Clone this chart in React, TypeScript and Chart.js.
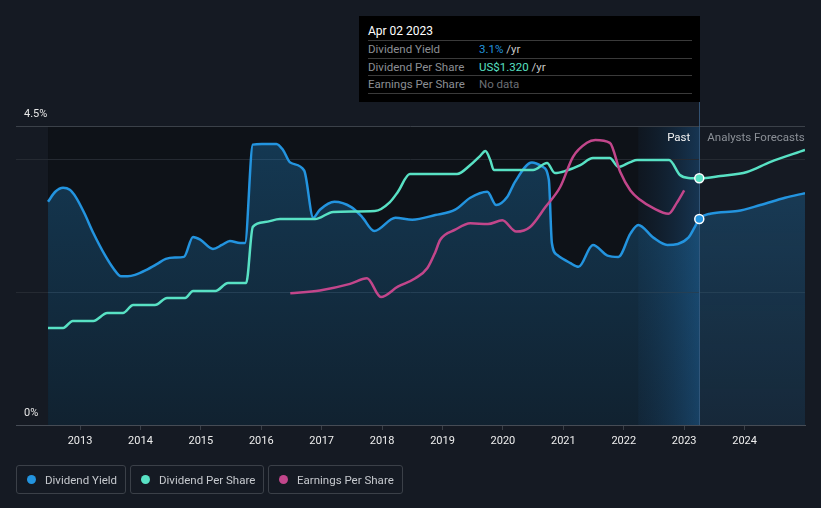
import React, { useEffect, useRef } from "react";
import { Chart, registerables } from "chart.js";

Chart.register(...registerables);

// ---------- data ----------
const TICK_YEARS = [2013, 2014, 2015, 2016, 2017, 2018, 2019, 2020, 2021, 2022, 2023, 2024];
const Y_TICKS = [0, 2, 4, 4.5];

const yieldYears = [2012.47, 2012.59, 2012.72, 2012.83, 2012.93, 2013.07, 2013.22, 2013.41, 2013.55, 2013.68, 2013.79, 2013.91, 2014.09, 2014.27, 2014.42, 2014.57, 2014.72, 2014.87, 2014.99, 2015.2, 2015.35, 2015.48, 2015.65, 2015.73, 2015.86, 2016.01, 2016.25, 2016.36, 2016.48, 2016.71, 2016.86, 2016.97, 2017.21, 2017.49, 2017.67, 2017.87, 2018.22, 2018.5, 2018.88, 2019.21, 2019.46, 2019.74, 2019.89, 2020.07, 2020.2, 2020.48, 2020.65, 2020.76, 2020.81, 2020.9, 2021.11, 2021.25, 2021.49, 2021.73, 2021.91, 2022.11, 2022.24, 2022.49, 2022.72, 2023.07, 2023.17, 2023.25, 2023.43, 2023.88, 2024.26, 2024.67, 2025.0];
const yieldValues = [3.36, 3.51, 3.57, 3.54, 3.43, 3.19, 2.89, 2.56, 2.36, 2.24, 2.24, 2.26, 2.33, 2.42, 2.5, 2.52, 2.53, 2.83, 2.79, 2.65, 2.71, 2.77, 2.74, 2.74, 4.22, 4.23, 4.23, 4.14, 3.95, 3.83, 3.12, 3.24, 3.36, 3.28, 3.13, 2.92, 3.12, 3.09, 3.16, 3.24, 3.42, 3.51, 3.31, 3.43, 3.66, 3.95, 3.89, 3.69, 2.74, 2.56, 2.44, 2.38, 2.71, 2.55, 2.53, 2.88, 3.01, 2.82, 2.71, 2.82, 2.97, 3.1, 3.18, 3.22, 3.31, 3.42, 3.49];

const dpsYears = [2012.47, 2012.72, 2012.88, 2013.22, 2013.45, 2013.71, 2013.88, 2014.24, 2014.44, 2014.74, 2014.87, 2015.24, 2015.45, 2015.75, 2015.86, 2016.06, 2016.31, 2016.89, 2017.19, 2017.88, 2018.13, 2018.26, 2018.46, 2019.24, 2019.46, 2019.62, 2019.71, 2019.79, 2019.85, 2020.5, 2020.73, 2020.86, 2021.03, 2021.28, 2021.49, 2021.77, 2021.91, 2022.11, 2022.22, 2022.75, 2022.93, 2023.07, 2023.25, 2023.6, 2024.04, 2024.42, 2025.0];
const dpsValues = [0.519, 0.519, 0.557, 0.557, 0.599, 0.599, 0.642, 0.642, 0.68, 0.68, 0.717, 0.717, 0.76, 0.76, 1.06, 1.086, 1.102, 1.102, 1.14, 1.145, 1.193, 1.247, 1.343, 1.343, 1.391, 1.439, 1.466, 1.418, 1.364, 1.364, 1.402, 1.348, 1.359, 1.391, 1.429, 1.429, 1.381, 1.407, 1.418, 1.418, 1.338, 1.322, 1.32, 1.332, 1.354, 1.407, 1.472];

const epsYears = [2016.48, 2016.97, 2017.47, 2017.75, 2017.98, 2018.26, 2018.55, 2018.75, 2018.88, 2018.96, 2019.21, 2019.46, 2019.75, 2019.99, 2020.22, 2020.45, 2020.7, 2020.95, 2021.16, 2021.39, 2021.53, 2021.77, 2021.94, 2022.11, 2022.27, 2022.49, 2022.74, 2022.88, 2023.0];
const epsValues = [1.41, 1.44, 1.51, 1.57, 1.37, 1.48, 1.57, 1.68, 1.85, 1.98, 2.09, 2.16, 2.15, 2.19, 2.07, 2.12, 2.33, 2.55, 2.87, 3.02, 3.05, 3.02, 2.71, 2.51, 2.41, 2.32, 2.26, 2.38, 2.51];

const X_MIN = 2011.94;
const X_MAX = 2025.0;
const PAST_START = 2012.47;
const BAND_START = 2022.24;
const NOW_X = 2023.25;

// ---------- styles ----------
const BG = "#151a23";
const PAST_BG = "#0e1218";
const YIELD_COLOR = "#2394df";
const DPS_COLOR = "#58e1c4";
const EPS_COLOR = "#c2468b";
const FONT = "Roboto, 'Open Sans', sans-serif";

const zip = (xs: number[], ys: number[]) => xs.map((x, i) => ({ x, y: ys[i] }));

const regionsPlugin = {
  id: "regions",
  beforeDraw(chart: any) {
    const { ctx, chartArea: a, scales } = chart;
    const x = scales.x;
    const xs = x.getPixelForValue(PAST_START);
    const xb = x.getPixelForValue(BAND_START);
    const xn = x.getPixelForValue(NOW_X);
    ctx.save();
    ctx.fillStyle = PAST_BG;
    ctx.fillRect(xs, a.top, xn - xs, a.bottom - a.top);
    const g = ctx.createLinearGradient(xb, 0, xn, 0);
    g.addColorStop(0, "rgba(22,50,80,0.15)");
    g.addColorStop(1, "rgba(30,88,140,0.5)");
    ctx.fillStyle = g;
    ctx.fillRect(xb, a.top, xn - xb, a.bottom - a.top);
    ctx.restore();
  },
  beforeDatasetsDraw(chart: any) {
    const { ctx, chartArea: a, scales } = chart;
    const xn = Math.round(scales.x.getPixelForValue(NOW_X)) + 0.5;
    ctx.save();
    ctx.strokeStyle = "rgba(60,100,140,0.75)";
    ctx.lineWidth = 1;
    ctx.beginPath();
    ctx.moveTo(xn, 16);
    ctx.lineTo(xn, a.bottom);
    ctx.stroke();
    ctx.restore();
  },
  afterDraw(chart: any) {
    const { ctx, chartArea: a, scales } = chart;
    const xn = scales.x.getPixelForValue(NOW_X);
    ctx.save();
    ctx.font = `11.5px ${FONT}`;
    ctx.textBaseline = "middle";
    ctx.textAlign = "right";
    ctx.fillStyle = "#f2f2f2";
    ctx.fillText("Past", xn - 9, a.top + 12);
    ctx.textAlign = "left";
    ctx.fillStyle = "#8b9097";
    ctx.fillText("Analysts Forecasts", xn + 8, a.top + 12);
    ctx.restore();
  },
};

const pointAtNow = (ctx: any) => (ctx.raw && Math.abs(ctx.raw.x - NOW_X) < 1e-6 ? 4.5 : 0);

const LEGEND = [
  { label: "Dividend Yield", color: YIELD_COLOR, width: 110 },
  { label: "Dividend Per Share", color: DPS_COLOR, width: 134 },
  { label: "Earnings Per Share", color: EPS_COLOR, width: 135 },
];

export default function App() {
  const ref = useRef<HTMLCanvasElement>(null);

  useEffect(() => {
    document.body.style.margin = "0";
    document.body.style.background = BG;
    const chart = new Chart(ref.current as HTMLCanvasElement, {
      type: "line",
      data: {
        datasets: [
          {
            label: "Earnings Per Share",
            data: zip(epsYears, epsValues),
            yAxisID: "yEps",
            borderColor: EPS_COLOR,
            borderWidth: 2.5,
            pointRadius: 0,
            cubicInterpolationMode: "monotone",
            fill: false,
          },
          {
            label: "Dividend Per Share",
            data: zip(dpsYears, dpsValues),
            yAxisID: "yDps",
            borderColor: DPS_COLOR,
            borderWidth: 2.5,
            pointRadius: pointAtNow,
            pointBackgroundColor: DPS_COLOR,
            pointBorderColor: "#ffffff",
            pointBorderWidth: 1.5,
            cubicInterpolationMode: "monotone",
            fill: false,
          },
          {
            label: "Dividend Yield",
            data: zip(yieldYears, yieldValues),
            yAxisID: "y",
            borderColor: YIELD_COLOR,
            borderWidth: 2.5,
            pointRadius: pointAtNow,
            pointBackgroundColor: YIELD_COLOR,
            pointBorderColor: "#ffffff",
            pointBorderWidth: 1.5,
            cubicInterpolationMode: "monotone",
            fill: "origin",
            backgroundColor: (c: any) => {
              const a = c.chart.chartArea;
              if (!a) return "rgba(35,148,223,0.2)";
              const g = c.chart.ctx.createLinearGradient(0, a.top, 0, a.bottom);
              g.addColorStop(0, "rgba(35,148,223,0.3)");
              g.addColorStop(1, "rgba(35,148,223,0.12)");
              return g;
            },
          },
        ],
      },
      options: {
        responsive: false,
        animation: false,
        devicePixelRatio: 1,
        layout: { padding: { top: 126, left: 16, right: 16, bottom: 55 } },
        plugins: {
          legend: { display: false },
          tooltip: { enabled: false },
          filler: { drawTime: "beforeDatasetsDraw" },
        } as any,
        scales: {
          x: {
            type: "linear",
            min: X_MIN,
            max: X_MAX,
            afterBuildTicks: (s: any) => {
              s.ticks = TICK_YEARS.map((v) => ({ value: v }));
            },
            afterFit: (s: any) => {
              s.height = 28;
            },
            grid: { drawOnChartArea: false, drawTicks: true, tickLength: 5, color: "#3a4048" },
            border: { display: true, color: "#464c55" },
            ticks: {
              color: "#eeeeee",
              font: { family: FONT, size: 11 },
              padding: 5,
              maxRotation: 0,
              autoSkip: false,
              callback: (v: any) => String(v),
            },
          },
          y: {
            type: "linear",
            position: "left",
            min: 0,
            max: 4.5,
            afterBuildTicks: (s: any) => {
              s.ticks = Y_TICKS.map((v) => ({ value: v }));
            },
            afterFit: (s: any) => {
              s.width = 0;
            },
            grid: {
              drawTicks: false,
              color: (c: any) =>
                c.tick && c.tick.value === 4.5 ? "#3b4149" : c.tick && c.tick.value === 0 ? "rgba(0,0,0,0)" : "#252a32",
            },
            border: { display: false },
            ticks: {
              mirror: true,
              padding: 8,
              labelOffset: -11.5,
              color: "#e6e6e6",
              font: { family: FONT, size: 11 },
              callback: (v: any) => (v === 0 ? "0%" : v === 4.5 ? "4.5%" : ""),
            },
          },
          yDps: { type: "linear", display: false, min: 0, max: 1.6 },
          yEps: { type: "linear", display: false, min: 0, max: 3.2 },
        },
      } as any,
      plugins: [regionsPlugin],
    });
    return () => chart.destroy();
  }, []);

  const rowStyle: React.CSSProperties = {
    height: 17.5,
    lineHeight: "17.5px",
    borderBottom: "1px solid #3a3a3a",
    display: "flex",
    boxSizing: "border-box",
  };
  const labelStyle: React.CSSProperties = { width: 111, color: "#8c8f94" };

  return (
    <div style={{ position: "relative", width: 821, height: 508, background: BG, overflow: "hidden", fontFamily: FONT }}>
      <canvas ref={ref} width={821} height={508} style={{ position: "absolute", left: 0, top: 0, width: 821, height: 508 }} />
      <div
        style={{
          position: "absolute",
          left: 359,
          top: 16,
          width: 341,
          height: 86,
          background: "#000",
          boxSizing: "border-box",
          padding: "0 8px 0 9px",
          fontSize: 11.5,
        }}
      >
        <div style={{ height: 25, lineHeight: "30px", color: "#ffffff", borderBottom: "1px solid #3a3a3a", boxSizing: "border-box", fontSize: 12 }}>
          Apr 02 2023
        </div>
        <div style={rowStyle}>
          <span style={labelStyle}>Dividend Yield</span>
          <span>
            <span style={{ color: YIELD_COLOR }}>3.1%</span>
            <span style={{ color: "#c9c9c9" }}> /yr</span>
          </span>
        </div>
        <div style={rowStyle}>
          <span style={labelStyle}>Dividend Per Share</span>
          <span>
            <span style={{ color: DPS_COLOR }}>US$1.320</span>
            <span style={{ color: "#c9c9c9" }}> /yr</span>
          </span>
        </div>
        <div style={rowStyle}>
          <span style={labelStyle}>Earnings Per Share</span>
          <span style={{ color: "#6b6f75" }}>No data</span>
        </div>
      </div>
      <div style={{ position: "absolute", left: 16, top: 465, display: "flex", gap: 4 }}>
        {LEGEND.map((l) => (
          <div
            key={l.label}
            style={{
              width: l.width,
              height: 29,
              border: "1px solid #3b4048",
              borderRadius: 3,
              boxSizing: "border-box",
              display: "flex",
              alignItems: "center",
              paddingLeft: 10,
              fontSize: 11.5,
              color: "#c6c9ce",
            }}
          >
            <span style={{ width: 9, height: 9, borderRadius: "50%", background: l.color, marginRight: 9, display: "inline-block" }} />
            {l.label}
          </div>
        ))}
      </div>
    </div>
  );
}
